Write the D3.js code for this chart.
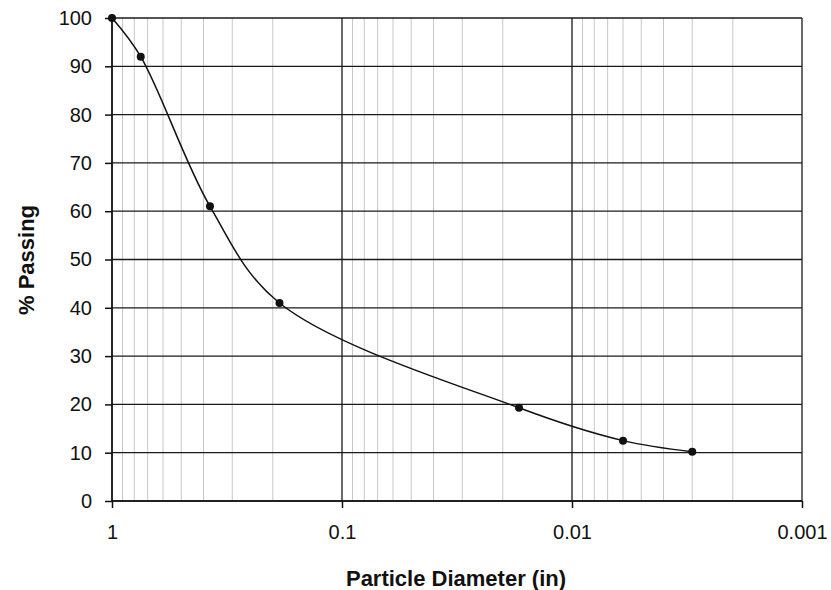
<!DOCTYPE html>
<html>
<head>
<meta charset="utf-8">
<script src="https://cdn.jsdelivr.net/npm/d3@7"></script>
<style>
  body { margin: 0; background: #fff; }
  text { font-family: "Liberation Sans", Arial, sans-serif; fill: #111; }
</style>
</head>
<body>
<div id="chart"></div>
<script>
// Sieve data
const diameters = [1, 0.75, 0.375, 0.187, 0.017, 0.006, 0.003];
const passing = [100, 92, 61, 41, 19.3, 12.5, 10.2];
const yTicks = [0, 10, 20, 30, 40, 50, 60, 70, 80, 90, 100];
const xTicks = [1, 0.1, 0.01, 0.001];
const xTickLabels = ['1', '0.1', '0.01', '0.001'];

const W = 831, H = 590;
const margin = { top: 18, right: 29, bottom: 89, left: 112 };
const width = W - margin.left - margin.right;
const height = H - margin.top - margin.bottom;

const svg = d3.select('#chart')
    .append('svg')
    .attr('width', W)
    .attr('height', H);

const g = svg.append('g')
    .attr('transform', 'translate(' + margin.left + ',' + margin.top + ')');

// log scale, reversed: 1 on the left, 0.001 on the right
const xScale = d3.scaleLog()
    .domain([1, 0.001])
    .range([0, width]);

const yScale = d3.scaleLinear()
    .domain([0, 100])
    .range([height, 0]);

// minor vertical grid (2..9 in each decade)
const minor = [];
[1, 0.1, 0.01].forEach(dec => {
    for (let k = 2; k <= 9; k++) minor.push(dec * k / 10);
});

g.selectAll('.minor')
    .data(minor)
    .enter()
    .append('line')
    .attr('class', 'minor')
    .attr('x1', d => xScale(d))
    .attr('x2', d => xScale(d))
    .attr('y1', 0)
    .attr('y2', height)
    .attr('stroke', '#c8c8c8')
    .attr('stroke-width', 1);

// horizontal grid
g.selectAll('.hgrid')
    .data(yTicks)
    .enter()
    .append('line')
    .attr('class', 'hgrid')
    .attr('x1', 0)
    .attr('x2', width)
    .attr('y1', d => yScale(d))
    .attr('y2', d => yScale(d))
    .attr('stroke', '#1a1a1a')
    .attr('stroke-width', 1.3);

// major vertical grid
g.selectAll('.vgrid')
    .data(xTicks)
    .enter()
    .append('line')
    .attr('class', 'vgrid')
    .attr('x1', d => xScale(d))
    .attr('x2', d => xScale(d))
    .attr('y1', 0)
    .attr('y2', height)
    .attr('stroke', '#1a1a1a')
    .attr('stroke-width', 1.3);

// axes
const xAxis = d3.axisBottom(xScale)
    .tickValues(xTicks)
    .tickFormat((d, i) => xTickLabels[i])
    .tickSize(7)
    .tickPadding(17);

const yAxis = d3.axisLeft(yScale)
    .tickValues(yTicks)
    .tickSize(7)
    .tickPadding(13);

const gx = g.append('g')
    .attr('class', 'x-axis')
    .attr('transform', 'translate(0,' + height + ')')
    .call(xAxis);

const gy = g.append('g')
    .attr('class', 'y-axis')
    .call(yAxis);

[gx, gy].forEach(a => {
    a.select('.domain').attr('stroke', '#111').attr('stroke-width', 1.5);
    a.selectAll('.tick line').attr('stroke', '#111').attr('stroke-width', 1.5);
    a.selectAll('.tick text')
        .attr('font-size', 20)
        .attr('font-family', '"Liberation Sans", Arial, sans-serif')
        .attr('fill', '#111');
});
gx.select('.domain').attr('d', 'M0,0H' + width);
gy.select('.domain').attr('d', 'M0,0V' + height);

// axis labels
svg.append('text')
    .attr('x', margin.left + width / 2 - 1)
    .attr('y', 586)
    .attr('text-anchor', 'middle')
    .attr('font-size', 22)
    .attr('font-weight', 'bold')
    .text('Particle Diameter (in)');

svg.append('text')
    .attr('transform', 'translate(34,260) rotate(-90)')
    .attr('text-anchor', 'middle')
    .attr('font-size', 22)
    .attr('font-weight', 'bold')
    .text('% Passing');

// curve
const data = diameters.map((d, i) => ({ d, p: passing[i] }));

g.append('path')
    .datum(data)
    .attr('fill', 'none')
    .attr('stroke', '#111')
    .attr('stroke-width', 1.5)
    .attr('d', d3.line()
        .x(d => xScale(d.d))
        .y(d => yScale(d.p))
        .curve(d3.curveCatmullRom.alpha(0.5)));

g.selectAll('.dot')
    .data(data)
    .enter()
    .append('circle')
    .attr('class', 'dot')
    .attr('cx', d => xScale(d.d))
    .attr('cy', d => yScale(d.p))
    .attr('r', 4)
    .attr('fill', '#111');
</script>
</body>
</html>
